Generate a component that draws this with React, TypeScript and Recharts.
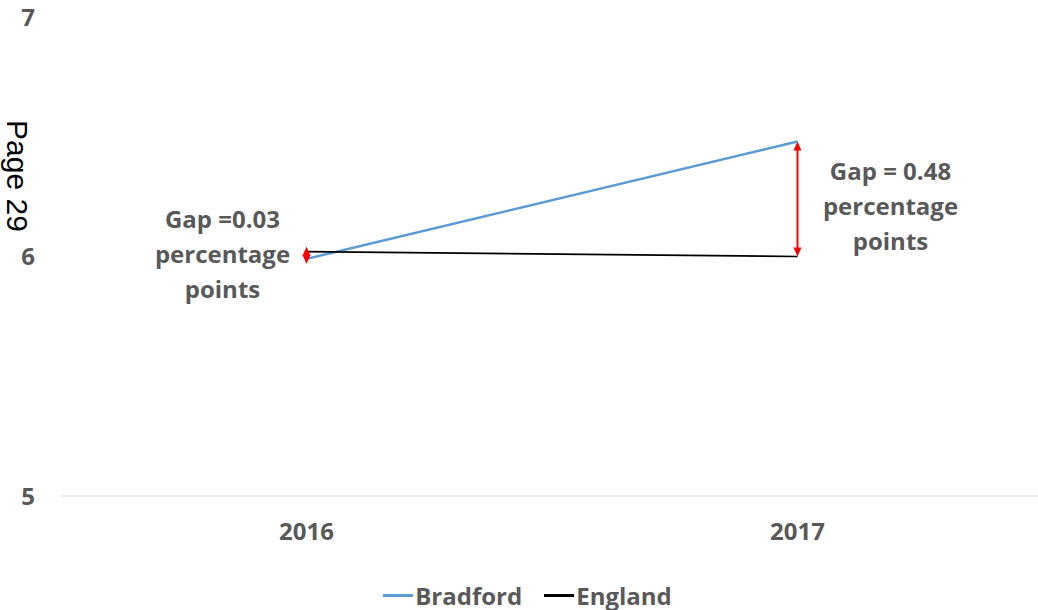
import { LineChart, Line, XAxis, YAxis, Legend, ReferenceLine } from 'recharts';

const years = ['2016', '2017'];
const bradford = [5.99, 6.48];
const england = [6.02, 6.0];
const yTicks = [5, 6, 7];
const gapLabels = [
  ['Gap =0.03', 'percentage', 'points'],
  ['Gap = 0.48', 'percentage', 'points'],
];

const data = years.map((year, i) => ({ year, Bradford: bradford[i], England: england[i] }));

const GREY = '#595959';
const BLUE = '#5b9bd5';
const RED = '#ff0000';
const FONT = '"Open Sans", sans-serif';

// double-headed red arrow between the two series, with its caption beside it
const gapArrow = (lines: string[], textDx: number, textDy: number) => (props: any) => {
  const { x1, y1, y2 } = props;
  const x = x1;
  let top = Math.min(y1, y2);
  let bottom = Math.max(y1, y2);
  if (bottom - top < 20) {
    top -= 5;
    bottom += 5;
  }
  const head = 9;
  const half = 4;
  const mid = (top + bottom) / 2;
  const cx = x + textDx;
  return (
    <g>
      <line x1={x} y1={top + head - 1} x2={x} y2={bottom - head + 1} stroke={RED} strokeWidth={2} />
      <polygon points={`${x},${top} ${x - half},${top + head} ${x + half},${top + head}`} fill={RED} />
      <polygon points={`${x},${bottom} ${x - half},${bottom - head} ${x + half},${bottom - head}`} fill={RED} />
      <text x={cx} y={mid + textDy + 8} textAnchor="middle" fill={GREY} fontSize={24} fontWeight="bold" fontFamily={FONT}>
        {lines.map((l, i) => (
          <tspan key={i} x={cx} dy={i === 0 ? -35 : 35}>
            {l}
          </tspan>
        ))}
      </text>
    </g>
  );
};

const renderLegend = (props: any) => (
  <div
    style={{
      display: 'flex',
      justifyContent: 'center',
      alignItems: 'center',
      columnGap: 22,
      height: 30,
      fontFamily: FONT,
      fontWeight: 'bold',
      fontSize: 24,
      color: GREY,
    }}
  >
    {props.payload.map((entry: any) => (
      <span key={entry.value} style={{ display: 'flex', alignItems: 'center' }}>
        <span style={{ width: 30, height: 3, background: entry.color, marginRight: 2 }} />
        {entry.value}
      </span>
    ))}
  </div>
);

export default function App() {
  return (
    <div style={{ position: 'absolute', left: 0, top: 0, width: 1038, height: 610, overflow: 'hidden', background: '#fff', fontFamily: FONT }}>
      <div
        style={{
          position: 'absolute',
          left: 16.5 - 60,
          top: 175.5 - 16,
          width: 120,
          height: 32,
          lineHeight: '32px',
          textAlign: 'center',
          fontFamily: '"Liberation Sans", Arial, sans-serif',
          fontSize: 30,
          color: '#000',
          transform: 'rotate(90deg)',
          zIndex: 2,
        }}
      >
        Page 29
      </div>
      <LineChart width={1043} height={610} data={data} margin={{ top: 17, right: 0, left: 0, bottom: 0 }}>
        <XAxis
          dataKey="year"
          scale="band"
          height={84}
          axisLine={{ stroke: '#d9d9d9', strokeWidth: 1 }}
          tickLine={false}
          tickMargin={21}
          tick={{ fill: GREY, fontSize: 24, fontWeight: 'bold', fontFamily: FONT }}
        />
        <YAxis
          width={61}
          domain={[5, 7]}
          ticks={yTicks}
          axisLine={false}
          tickLine={false}
          tickMargin={20}
          tick={{ fill: GREY, fontSize: 24, fontWeight: 'bold', fontFamily: FONT }}
        />
        <Legend verticalAlign="bottom" content={renderLegend} wrapperStyle={{ left: 6 }} />
        <Line type="linear" dataKey="Bradford" stroke={BLUE} strokeWidth={2.5} dot={false} isAnimationActive={false} />
        <Line type="linear" dataKey="England" stroke="#000" strokeWidth={1.75} dot={false} isAnimationActive={false} />
        <ReferenceLine
          segment={[{ x: years[0], y: england[0] }, { x: years[0], y: bradford[0] }]}
          shape={gapArrow(gapLabels[0], -84, 0)}
        />
        <ReferenceLine
          segment={[{ x: years[1], y: bradford[1] }, { x: years[1], y: england[1] }]}
          shape={gapArrow(gapLabels[1], 93, 8)}
        />
      </LineChart>
    </div>
  );
}
